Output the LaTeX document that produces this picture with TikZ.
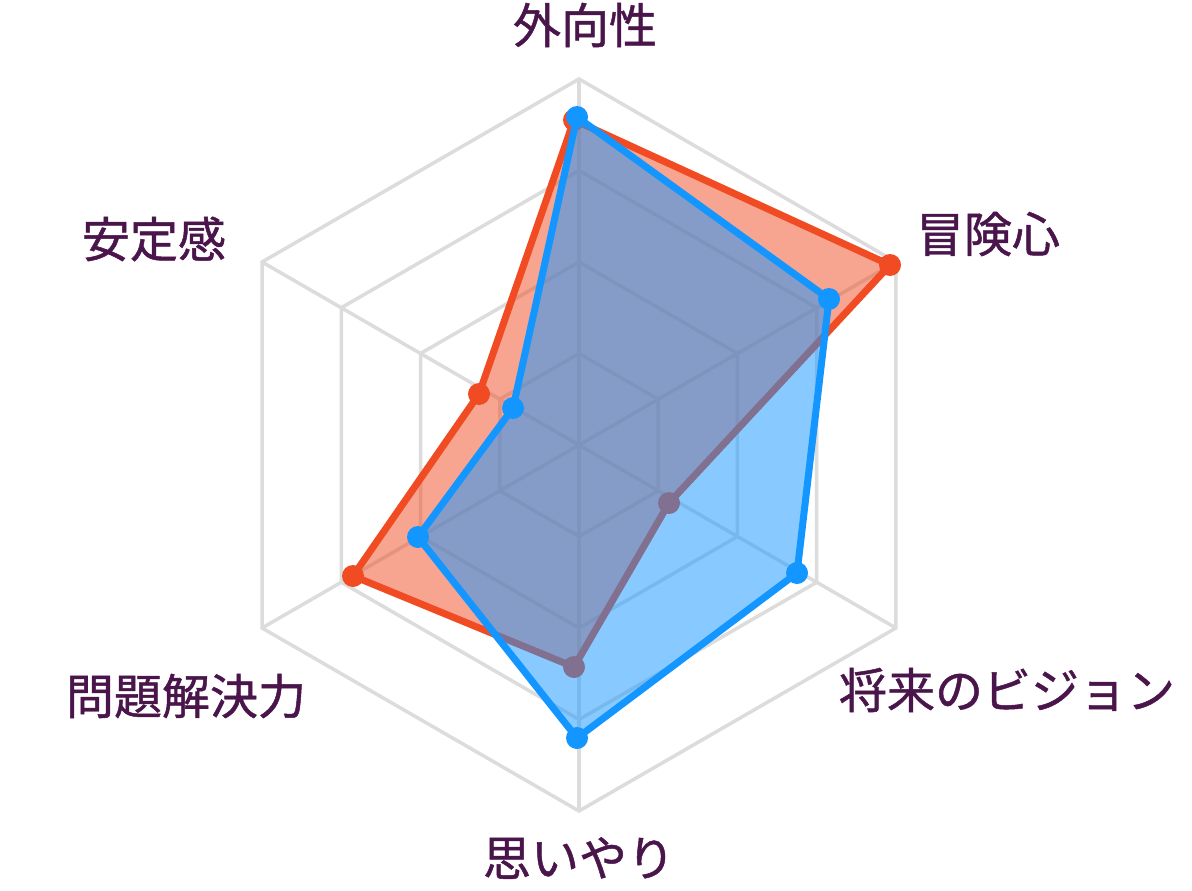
\documentclass[tikz,border=0pt]{standalone}
\usepackage{fontspec}
\newfontfamily\jp{Noto Sans CJK JP}[FakeBold=1]
\usetikzlibrary{calc}
\definecolor{gridc}{HTML}{DCDCDC}
\definecolor{redc}{HTML}{F04B22}
\definecolor{bluec}{HTML}{1396FF}
\definecolor{labc}{HTML}{4A154B}
\begin{document}
\begin{tikzpicture}[x=1pt,y=-1pt,
  gridline/.style={draw=gridc, line width=3.5pt, line join=miter},
  series/.style={line width=7pt, line join=round},
  lab/.style={text=labc, font=\jp\fontsize{48}{58}\selectfont, inner sep=0pt, anchor=center}]
\useasboundingbox (0,0) rectangle (1192,891);
\fill[white] (0,0) rectangle (1192,891);
\coordinate (O) at (579,445);
% grid
\foreach \k in {1,2,3,4}{
  \draw[gridline] ($(O)+(-90:91.5*\k)$) -- ($(O)+(-30:91.5*\k)$) -- ($(O)+(30:91.5*\k)$)
    -- ($(O)+(90:91.5*\k)$) -- ($(O)+(150:91.5*\k)$) -- ($(O)+(210:91.5*\k)$) -- cycle;
}
\foreach \a in {-90,-30,30,90,150,210}{
  \coordinate (S\a) at ($(O)+(\a:366)$);
  \draw[gridline] (O) -- (S\a);
}
% red series
\coordinate (R1) at (574,120);
\coordinate (R2) at (890,265);
\coordinate (R3) at (669,503);
\coordinate (R4) at (574,667);
\coordinate (R5) at (353,576);
\coordinate (R6) at (479,394);
\fill[redc, fill opacity=0.5] (R1) -- (R2) -- (R3) -- (R4) -- (R5) -- (R6) -- cycle;
\draw[series, draw=redc] (R1) -- (R2) -- (R3) -- (R4) -- (R5) -- (R6) -- cycle;
\foreach \p in {R1,R2,R3,R4,R5,R6}{\fill[redc] (\p) circle (11);}
% blue series
\coordinate (B1) at (577,117);
\coordinate (B2) at (829,299);
\coordinate (B3) at (797,573);
\coordinate (B4) at (577,738);
\coordinate (B5) at (418,537);
\coordinate (B6) at (513,408);
\fill[bluec, fill opacity=0.5] (B1) -- (B2) -- (B3) -- (B4) -- (B5) -- (B6) -- cycle;
\draw[series, draw=bluec] (B1) -- (B2) -- (B3) -- (B4) -- (B5) -- (B6) -- cycle;
\foreach \p in {B1,B2,B3,B4,B5,B6}{\fill[bluec] (\p) circle (11);}
% labels
\node[lab] (L1) at (585,25) {外向性};
\node[lab] (L2) at (988,234) {冒険心};
\node[lab] (L3) at (1007,690) {将来のビジョン};
\node[lab] (L4) at (579,858) {思いやり};
\node[lab] (L5) at (186,696) {問題解決力};
\node[lab] (L6) at (154,239) {安定感};
\end{tikzpicture}
\end{document}
